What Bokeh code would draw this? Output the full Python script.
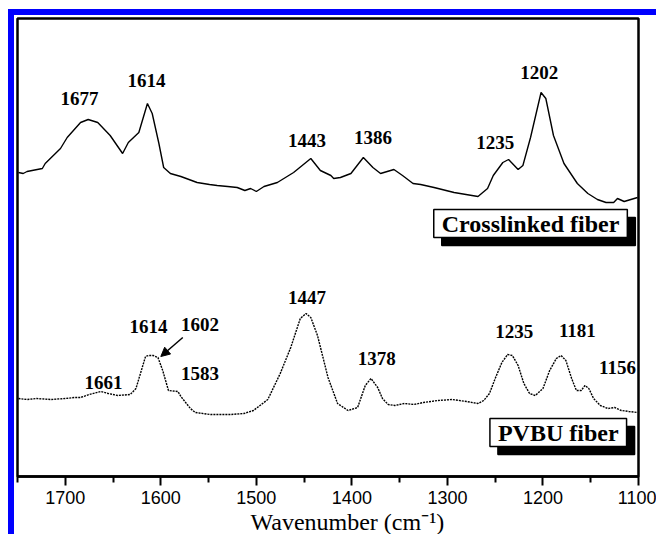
from bokeh.plotting import figure
from bokeh.models import (Range1d, FixedTicker, Label, Arrow, NormalHead,
                          ColumnDataSource, Title)
from bokeh.core.properties import value
from bokeh.embed import file_html
from bokeh.resources import INLINE

# ---------------- data ----------------
cross_wn = [1749, 1744, 1740, 1724, 1721, 1705, 1698, 1684, 1676, 1666, 1653, 1640,
            1634, 1623, 1614, 1609, 1602, 1597, 1590, 1579, 1562, 1549, 1541, 1530,
            1520, 1512, 1506, 1500, 1492, 1478, 1461, 1443, 1433, 1422, 1419, 1412,
            1401, 1388, 1378, 1370, 1356, 1347, 1336, 1328, 1314, 1293, 1268, 1258,
            1252, 1242, 1236, 1226, 1221, 1213, 1202, 1197, 1189, 1178, 1164, 1153,
            1143, 1134, 1126, 1122, 1115, 1101]
cross_int = [304, 303, 305, 308, 313, 328, 339, 354, 357, 354, 341, 323,
             334, 344, 373, 363, 333, 309, 303, 300, 294, 292, 291, 290,
             289, 286, 288, 285, 290, 294, 304, 318, 306, 301, 298, 299,
             303, 319, 309, 303, 307, 301, 293, 292, 289, 284, 280, 288,
             301, 314, 317, 307, 311, 339, 384, 378, 341, 313, 293, 283,
             277, 274, 274, 278, 275, 279]

pvbu_wn = [1749, 1740, 1730, 1715, 1700, 1690, 1684, 1675, 1663, 1655, 1645, 1632,
           1626, 1621, 1616, 1613, 1608, 1603, 1598, 1592, 1582, 1579, 1569, 1564,
           1548, 1527, 1513, 1503, 1488, 1475, 1464, 1454, 1448, 1443, 1436, 1425,
           1415, 1404, 1394, 1386, 1380, 1373, 1368, 1362, 1355, 1345, 1335, 1325,
           1310, 1295, 1280, 1268, 1262, 1256, 1250, 1243, 1237, 1232, 1226, 1220,
           1214, 1208, 1200, 1193, 1186, 1181, 1176, 1170, 1165, 1160, 1156, 1152,
           1147, 1140, 1132, 1125, 1118, 1110, 1101]
pvbu_int = [78, 77, 78, 77, 78, 79, 79, 82, 85, 83, 81, 82,
            88, 104, 120, 121, 121, 119, 106, 86, 85, 80, 68, 64,
            62, 62, 63, 66, 77, 103, 129, 158, 163, 159, 141, 99,
            73, 66, 69, 91, 98, 89, 78, 72, 71, 73, 72, 74,
            76, 77, 75, 73, 76, 83, 98, 114, 122, 121, 111, 93,
            83, 81, 88, 106, 118, 121, 116, 98, 86, 86, 91, 88,
            78, 71, 68, 69, 66, 65, 64]

cross_labels = ["1677", "1614", "1443", "1386", "1235", "1202"]
cross_label_x = [1685, 1615, 1447, 1378, 1250, 1204]
cross_label_y = [378, 396, 336, 339, 334, 404]

pvbu_labels = ["1661", "1614", "1602", "1583", "1447", "1378", "1235", "1181", "1156"]
pvbu_label_x = [1660, 1613, 1559, 1559, 1447, 1374, 1230, 1164, 1122]
pvbu_label_y = [94, 150, 152, 103, 179, 118, 145, 146, 109]

tick_values = [1700, 1600, 1500, 1400, 1300, 1200, 1100]
minor_tick_values = [1750, 1650, 1550, 1450, 1350, 1250, 1150]

series_names = ["Crosslinked fiber", "PVBU fiber"]
x_title = "Wavenumber (cm\u207b\u00b9)"

# ---------------- figure ----------------
# canvas starts at page (14, 15): 8/9 px margin + 6 px blue page border
p = figure(frame_width=621, frame_height=458,
           x_range=Range1d(1750, 1100), y_range=Range1d(0, 458),
           y_axis_location=None, output_backend="svg", toolbar_location=None,
           min_border_left=3, min_border_top=3, min_border_right=18,
           min_border_bottom=0)
p.margin = (9, 0, 0, 8)
p.styles = {"border-left": "6px solid #0000ff",
            "border-top": "6px solid #0000ff",
            "min-width": "642px"}
p.grid.visible = False
p.outline_line_color = "black"
p.outline_line_width = 2.5
p.outline_line_alpha = 1.0
p.background_fill_color = "white"
p.border_fill_color = "white"

ax = p.xaxis[0]
ax.ticker = FixedTicker(ticks=tick_values, minor_ticks=minor_tick_values)
ax.axis_line_color = "black"
ax.axis_line_width = 2.5
ax.major_tick_line_width = 2
ax.minor_tick_line_width = 2
ax.major_tick_out = 9
ax.major_tick_in = 0
ax.minor_tick_out = 6
ax.minor_tick_in = 0
ax.major_label_text_font = "Liberation Sans"
ax.major_label_text_font_size = "18px"
ax.major_label_text_color = "black"

p.add_layout(Title(text=x_title, align="left", offset=233, standoff=0,
                   text_font="Liberation Serif", text_font_style="normal",
                   text_font_size="24px", text_color="black"), "below")

p.line(cross_wn, cross_int, line_color="black", line_width=1.4)
p.line(pvbu_wn, pvbu_int, line_color="black", line_width=1.4, line_dash="2 1")

lab_src1 = ColumnDataSource(dict(x=cross_label_x, y=cross_label_y, t=cross_labels))
lab_src2 = ColumnDataSource(dict(x=pvbu_label_x, y=pvbu_label_y, t=pvbu_labels))
for src in (lab_src1, lab_src2):
    p.text(x="x", y="y", text="t", source=src, text_font=value("Liberation Serif"),
           text_font_style="bold", text_font_size="19px", text_color="black",
           text_align="center", text_baseline="middle")

p.add_layout(Arrow(end=NormalHead(size=9, fill_color="black", line_color="black"),
                   x_start=1577, y_start=139, x_end=1600, y_end=120,
                   line_color="black", line_width=1.5))

# legend-like boxes with drop shadow
for name, bx, by in [(series_names[0], 1213, 253), (series_names[1], 1184, 44)]:
    pad = dict(left=8, right=8, top=1, bottom=1)
    shadow = Label(x=bx, y=by, x_offset=8, y_offset=-8, text=name,
                   text_font="Liberation Serif", text_font_style="bold",
                   text_font_size="24px", text_color="black",
                   text_align="center", text_baseline="middle",
                   background_fill_color="black", border_line_color="black",
                   border_line_width=1.5, padding=pad)
    box = Label(x=bx, y=by, text=name,
                text_font="Liberation Serif", text_font_style="bold",
                text_font_size="24px", text_color="black",
                text_align="center", text_baseline="middle",
                background_fill_color="white", border_line_color="black",
                border_line_width=1.5, padding=pad)
    p.add_layout(shadow)
    p.add_layout(box)

open("out.html", "w").write(file_html(p, INLINE))
